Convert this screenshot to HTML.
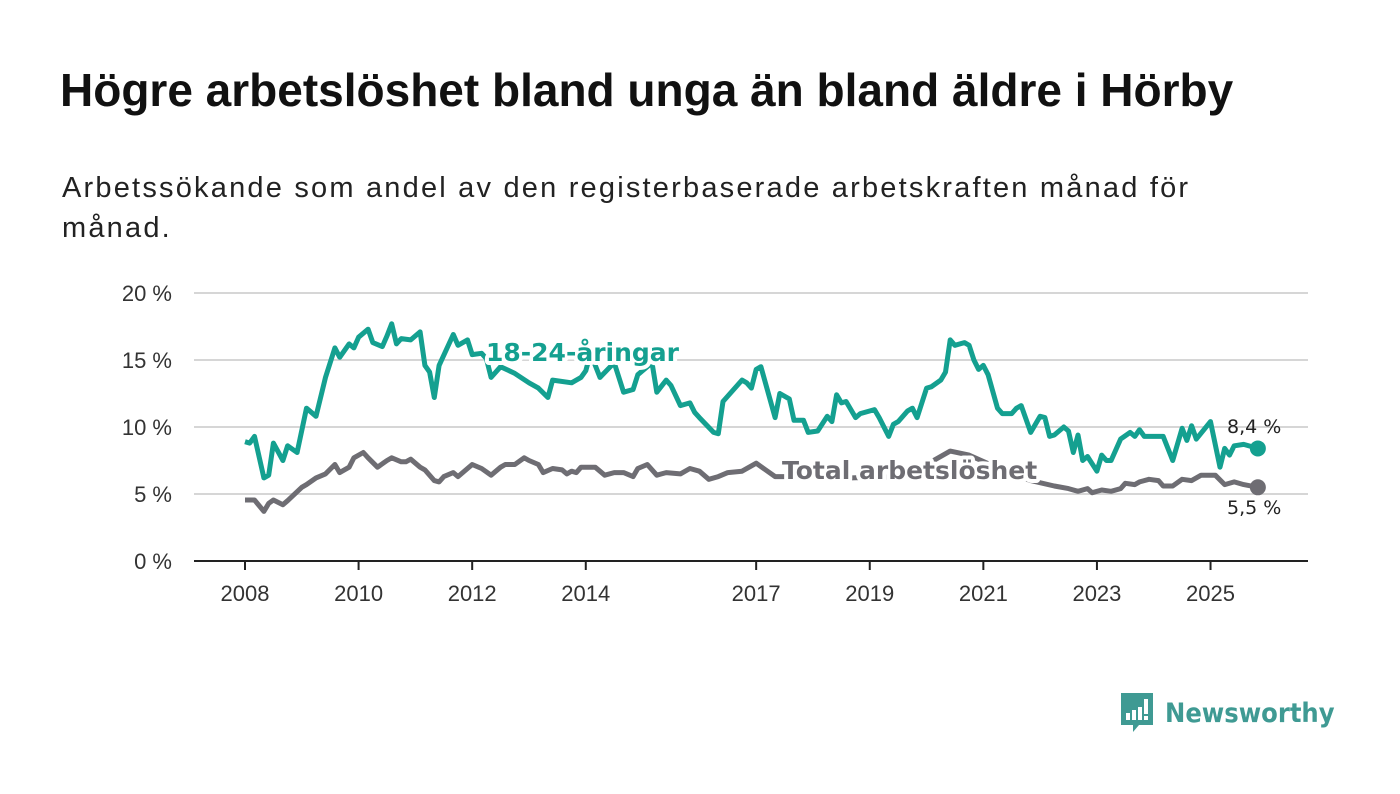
<!DOCTYPE html>
<html><head><meta charset="utf-8">
<style>
body{margin:0;background:#fff;width:1400px;height:794px;overflow:hidden;font-family:"Liberation Sans",sans-serif;}
h1{position:absolute;left:60px;top:67px;margin:0;font-size:46px;line-height:46px;font-weight:bold;color:#111;white-space:nowrap}
.sub{position:absolute;left:62px;top:168px;margin:0;font-size:29px;line-height:40px;letter-spacing:2.2px;color:#222;width:1200px}
svg{position:absolute;left:0;top:0}
</style></head><body>
<h1>Högre arbetslöshet bland unga än bland äldre i Hörby</h1>
<p class="sub">Arbetssökande som andel av den registerbaserade arbetskraften månad för månad.</p>
<svg id="chart" width="1400" height="794"></svg>
<div style="position:absolute;left:1119px;top:691px;display:flex;align-items:center">
<svg width="36" height="44" viewBox="0 0 36 44" style="position:static"><path d="M2 2h32v32H20l-6 7v-7H2z" fill="#3f9a93"/><rect x="7" y="22" width="4" height="7" fill="#fff"/><rect x="13" y="19" width="4" height="10" fill="#fff"/><rect x="19" y="16" width="4" height="13" fill="#fff"/><rect x="25" y="8" width="4" height="15" fill="#fff"/><rect x="25" y="25" width="4" height="4" fill="#fff"/></svg>
<span style="font-size:27px;font-weight:bold;color:#3f9a93;margin-left:10px;font-family:'DejaVu Sans Condensed','Liberation Sans',sans-serif">Newsworthy</span>
</div>
<script>
const youthMonths=[0,1,2,4,5,6,8,9,11,13,15,17,19,20,22,23,24,26,27,29,30,31,32,33,35,37,38,39,40,41,44,45,47,48,50,51,52,54,57,60,62,64,65,69,71,72,73,75,78,80,82,83,86,87,89,90,92,94,95,96,99,100,101,104,105,106,107,108,109,112,113,115,116,118,119,121,123,124,125,126,127,129,130,133,134,136,137,138,140,141,142,144,145,147,148,149,150,152,153,154,155,156,157,159,160,162,163,164,166,168,169,170,171,173,174,175,176,177,178,180,181,182,183,185,187,188,189,190,192,194,196,198,199,200,201,204,206,207,208,209,211,214];
const youthValues=[8.9,8.8,9.3,6.2,6.4,8.8,7.5,8.6,8.1,11.4,10.8,13.7,15.9,15.2,16.2,15.9,16.7,17.3,16.3,16,16.8,17.7,16.2,16.6,16.5,17.1,14.6,14.1,12.2,14.6,16.9,16.1,16.5,15.4,15.5,15.1,13.7,14.5,14.0,13.3,12.9,12.2,13.5,13.3,13.7,14.2,15.5,13.7,14.8,12.6,12.8,13.9,14.8,12.6,13.5,13.1,11.6,11.8,11.1,10.7,9.6,9.5,11.9,13.1,13.5,13.3,12.9,14.3,14.5,10.7,12.5,12.1,10.5,10.5,9.6,9.7,10.8,10.4,12.4,11.8,11.9,10.7,11,11.3,10.7,9.3,10.2,10.4,11.2,11.4,10.7,12.9,13,13.5,14.1,16.5,16.1,16.3,16.1,15,14.3,14.6,13.9,11.4,11,11,11.4,11.6,9.6,10.8,10.7,9.3,9.4,10,9.7,8.1,9.4,7.5,7.8,6.7,7.9,7.5,7.5,9.1,9.6,9.3,9.8,9.3,9.3,9.3,7.5,9.9,9.0,10.1,9.1,10.4,7,8.4,7.9,8.6,8.7,8.4];
const totalMonths=[0,2,4,5,6,8,9,12,13,15,17,19,20,22,23,25,26,28,30,31,33,34,35,37,38,40,41,42,44,45,47,48,50,52,54,55,57,59,60,62,63,65,67,68,69,70,71,74,76,78,80,82,83,85,87,88,89,92,94,96,98,100,102,105,108,110,112,117,128,138,145,149,153,160,166,171,174,176,178,179,181,183,185,186,188,189,191,193,194,196,198,200,202,205,207,209,211,214];
const totalValues=[4.55,4.55,3.7,4.3,4.55,4.2,4.5,5.5,5.7,6.2,6.5,7.2,6.6,7,7.7,8.1,7.7,7,7.5,7.7,7.4,7.4,7.6,7,6.8,6,5.9,6.3,6.6,6.3,6.9,7.2,6.9,6.4,7,7.2,7.2,7.7,7.5,7.2,6.6,6.9,6.8,6.5,6.7,6.6,7,7,6.4,6.6,6.6,6.3,6.9,7.2,6.4,6.5,6.6,6.5,6.9,6.7,6.1,6.3,6.6,6.7,7.3,6.8,6.3,6.3,6.2,6.3,7.4,8.2,7.9,6.8,6,5.6,5.4,5.2,5.4,5.1,5.3,5.2,5.4,5.8,5.7,5.9,6.1,6,5.6,5.6,6.1,6,6.4,6.4,5.7,5.9,5.7,5.5];
const yTicks=[0,5,10,15,20];
const xTickYears=[2008,2010,2012,2014,2017,2019,2021,2023,2025];

const NS="http://www.w3.org/2000/svg";
const svg=document.getElementById('chart');
const X=m=>245+m*4.733;
const Y=v=>561-v*13.4;
function mk(t,a){const e=document.createElementNS(NS,t);for(const k in a)e.setAttribute(k,a[k]);svg.appendChild(e);return e;}
yTicks.forEach(v=>{
  const l=mk('line',{x1:194,x2:1308,y1:Y(v),y2:Y(v),stroke:v===0?'#222':'#d6d6d6','stroke-width':2});
  
  
  const t=mk('text',{x:172,y:Y(v)+8,'text-anchor':'end','font-size':22,fill:'#333','font-family':'Liberation Sans, sans-serif'});
  t.textContent=v+' %';
  
  
});
xTickYears.forEach(yr=>{
  const x=X((yr-2008)*12);
  const l=mk('line',{x1:x,x2:x,y1:561,y2:570,stroke:'#222','stroke-width':2});
  
  
  const t=mk('text',{x:x,y:601,'text-anchor':'middle','font-size':22,fill:'#333','font-family':'Liberation Sans, sans-serif'});
  t.textContent=yr;
  
  
});
function line(ms,vs,col,name){
  const d=ms.map((m,i)=>(i?'L':'M')+X(m).toFixed(1)+' '+Y(vs[i]).toFixed(1)).join(' ');
  const p=mk('path',{d:d,fill:'none',stroke:col,'stroke-width':5,'stroke-linejoin':'round'});
  
  
  const c=mk('circle',{cx:X(ms[ms.length-1]),cy:Y(vs[vs.length-1]),r:8,fill:col});
  
  
}
line(totalMonths,totalValues,'#6e6d73','total-line');
line(youthMonths,youthValues,'#14a090','youth-line');
function lab(txt,x,y,col,size,bold,name,halo){
  const t=mk('text',{x:x,y:y,fill:col,'font-size':size,'font-weight':bold?'bold':'normal','font-family':'DejaVu Sans, Liberation Sans, sans-serif'});
  if(halo){t.setAttribute('stroke','#fff');t.setAttribute('stroke-width',8);t.setAttribute('paint-order','stroke');t.setAttribute('stroke-linejoin','round');}
  t.textContent=txt;
  
  
}
lab('18-24-åringar',486,361,'#14a090',25,true,'youth-series-label',true);
lab('Total arbetslöshet',782,479,'#6e6d73',25,true,'total-series-label',true);
lab('8,4 %',1227,433,'#222',19,false,'youth-end-value',false);
lab('5,5 %',1227,514,'#222',19,false,'total-end-value',false);
</script>
</body></html>
